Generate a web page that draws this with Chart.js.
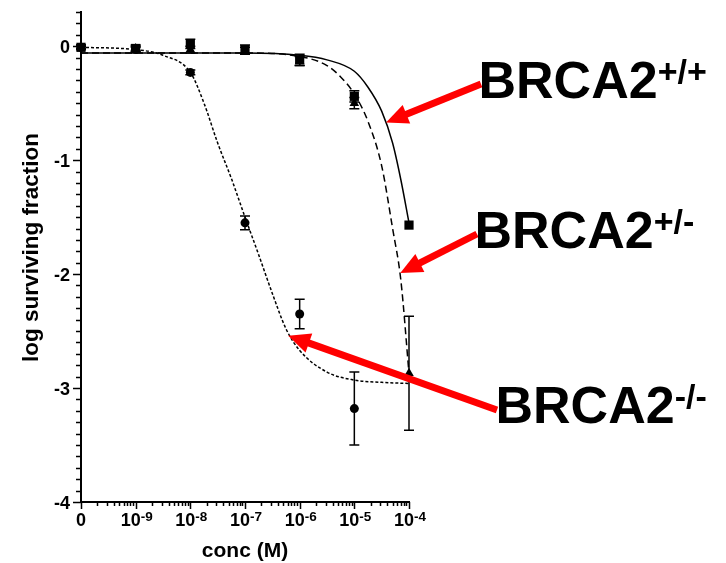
<!DOCTYPE html>
<html>
<head>
<meta charset="utf-8">
<script src="https://cdn.jsdelivr.net/npm/chart.js@4.4.1/dist/chart.umd.min.js"></script>
<style>
  html, body { margin: 0; padding: 0; background: #fff; }
  #wrap { width: 726px; height: 563px; }
</style>
</head>
<body>
<div id="wrap"><canvas id="survival" width="726" height="563"></canvas></div>
<script>
// concentrations (M); "0" is drawn one decade left of 1e-9
const conc = [0, 1e-9, 1e-8, 1e-7, 1e-6, 1e-5, 1e-4];

// log surviving fraction, mean and error
const wtMean  = [-0.01, -0.02, 0.02, -0.03, -0.12, -0.44, -1.57];
const wtErr   = [0.02, 0.03, 0.04, 0.04, 0.05, 0.05, 0];
const hetMean = [-0.01, -0.02, -0.03, -0.04, -0.13, -0.50, -2.87];
const hetErr  = [0.02, 0.02, 0.03, 0.03, 0.04, 0.05, 0.5];
const koMean  = [-0.01, -0.03, -0.23, -1.55, -2.35, -3.18];
const koErr   = [0.01, 0.02, 0.02, 0.06, 0.13, 0.32];

// fitted curves (x in log10 M, "0" at -10)
const wtFitX  = [-10, -7, -6, -5.5, -5.0, -4.75, -4.5, -4.3, -4.15, -4.0];
const wtFitY  = [-0.06, -0.06, -0.08, -0.12, -0.22, -0.36, -0.57, -0.85, -1.17, -1.55];
const hetFitX = [-10, -7, -6, -5.5, -5.25, -5.0, -4.75, -4.5, -4.3, -4.15, -4.0];
const hetFitY = [-0.06, -0.06, -0.09, -0.17, -0.27, -0.42, -0.66, -1.05, -1.6, -2.05, -2.87];
const koFitX  = [-10, -9, -8.5, -8.0, -7.75, -7.5, -7.25, -7.0, -6.75, -6.5, -6.25, -6.0, -5.5, -5.0, -4.5, -4.0];
const koFitY  = [-0.01, -0.03, -0.08, -0.23, -0.50, -0.85, -1.16, -1.50, -1.83, -2.17, -2.48, -2.67, -2.86, -2.93, -2.95, -2.96];

// axis ticks
const yTicks = [0, -1, -2, -3, -4];
const xTickLabels = [["0", ""], ["10", "-9"], ["10", "-8"], ["10", "-7"], ["10", "-6"], ["10", "-5"], ["10", "-4"]];

// series names for the annotations
const seriesNames = [["BRCA2", "+/+"], ["BRCA2", "+/-"], ["BRCA2", "-/-"]];

const FONT = '"Liberation Sans", Arial, sans-serif';

function logPos(c) {
  return c === 0 ? -10 : Math.log10(c);
}
function pts(xs, ys) {
  return ys.map((v, i) => ({ x: xs[i], y: v }));
}
function meanPts(mean) {
  return mean.map((v, i) => ({ x: logPos(conc[i]), y: v }));
}

const errorSets = [
  { mean: wtMean, err: wtErr },
  { mean: hetMean, err: hetErr },
  { mean: koMean, err: koErr },
];

function arrow(ctx, x0, y0, x1, y1) {
  const a = Math.atan2(y1 - y0, x1 - x0);
  const head = 22, half = 10;
  const bx = x1 - head * Math.cos(a), by = y1 - head * Math.sin(a);
  ctx.strokeStyle = "#ff0000";
  ctx.fillStyle = "#ff0000";
  ctx.lineWidth = 7;
  ctx.beginPath();
  ctx.moveTo(x0, y0);
  ctx.lineTo(bx + 2 * Math.cos(a), by + 2 * Math.sin(a));
  ctx.stroke();
  ctx.beginPath();
  ctx.moveTo(x1, y1);
  ctx.lineTo(bx + half * Math.sin(a), by - half * Math.cos(a));
  ctx.lineTo(bx - half * Math.sin(a), by + half * Math.cos(a));
  ctx.closePath();
  ctx.fill();
}

const decorations = {
  id: "decorations",
  afterDatasetsDraw(chart) {
    const { ctx, scales: { x, y } } = chart;
    ctx.save();
    ctx.strokeStyle = "#000";
    ctx.lineWidth = 1.5;
    errorSets.forEach(s => {
      s.mean.forEach((m, i) => {
        const e = s.err[i];
        if (!e) return;
        const px = x.getPixelForValue(logPos(conc[i]));
        const top = y.getPixelForValue(m + e);
        const bot = y.getPixelForValue(m - e);
        ctx.beginPath();
        ctx.moveTo(px, top); ctx.lineTo(px, bot);
        ctx.moveTo(px - 5, top); ctx.lineTo(px + 5, top);
        ctx.moveTo(px - 5, bot); ctx.lineTo(px + 5, bot);
        ctx.stroke();
      });
    });
    ctx.restore();
  },
  afterDraw(chart) {
    const { ctx, scales: { x, y } } = chart;
    const area = chart.chartArea;
    ctx.save();
    ctx.strokeStyle = "#000";
    ctx.fillStyle = "#000";
    ctx.lineWidth = 1.5;

    // y ticks, minor every 0.1
    ctx.beginPath();
    for (let i = -40; i <= 3; i++) {
      const py = Math.round(y.getPixelForValue(i / 10)) + 0.5;
      const len = i % 10 === 0 ? 8 : 5;
      ctx.moveTo(area.left, py);
      ctx.lineTo(area.left - len, py);
    }
    // x ticks, log minors
    for (let d = -10; d <= -4; d++) {
      const px = Math.round(x.getPixelForValue(d)) + 0.5;
      ctx.moveTo(px, area.bottom);
      ctx.lineTo(px, area.bottom + 7);
      if (d === -4) continue;
      for (let k = 2; k <= 9; k++) {
        const mx = Math.round(x.getPixelForValue(d + Math.log10(k))) + 0.5;
        ctx.moveTo(mx, area.bottom);
        ctx.lineTo(mx, area.bottom + 4);
      }
    }
    ctx.stroke();

    // y tick labels
    ctx.font = "bold 18px " + FONT;
    ctx.textAlign = "right";
    ctx.textBaseline = "alphabetic";
    yTicks.forEach(v => {
      ctx.fillText(String(v), area.left - 11, y.getPixelForValue(v) + 6.5);
    });

    // x tick labels with superscripts
    ctx.textAlign = "left";
    xTickLabels.forEach((lab, i) => {
      const px = x.getPixelForValue(logPos(conc[i]));
      ctx.font = "bold 18px " + FONT;
      const w1 = ctx.measureText(lab[0]).width;
      ctx.font = "bold 13.5px " + FONT;
      const w2 = lab[1] ? ctx.measureText(lab[1]).width : 0;
      const start = px - (w1 + w2) / 2 + (lab[1] ? 1 : 0);
      ctx.font = "bold 18px " + FONT;
      ctx.fillText(lab[0], start, 525.5);
      if (lab[1]) {
        ctx.font = "bold 13.5px " + FONT;
        ctx.fillText(lab[1], start + w1, 520.5);
      }
    });

    // axis titles
    ctx.font = "bold 21px " + FONT;
    ctx.textAlign = "center";
    ctx.fillText("conc (M)", (area.left + area.right) / 2, 557);
    ctx.save();
    ctx.translate(38, 247.5);
    ctx.rotate(-Math.PI / 2);
    ctx.font = "bold 22.5px " + FONT;
    ctx.fillText("log surviving fraction", 0, 0);
    ctx.restore();

    // red arrows pointing at each fit
    arrow(ctx, 481, 84, x.getPixelForValue(-4.42), y.getPixelForValue(-0.67));
    arrow(ctx, 477, 234, x.getPixelForValue(-4.16), y.getPixelForValue(-1.99));
    arrow(ctx, 497, 410, x.getPixelForValue(-6.21), y.getPixelForValue(-2.54));

    // series labels
    const labelPos = [[478.5, 98], [474.5, 248], [495.5, 423]];
    ctx.fillStyle = "#000";
    ctx.textAlign = "left";
    seriesNames.forEach((n, i) => {
      const [lx, ly] = labelPos[i];
      ctx.font = "bold 52px " + FONT;
      ctx.fillText(n[0], lx, ly);
      const w = ctx.measureText(n[0]).width;
      ctx.font = "bold 34px " + FONT;
      ctx.fillText(n[1], lx + w, ly - 15);
    });
    ctx.restore();
  }
};

new Chart(document.getElementById("survival"), {
  type: "scatter",
  data: {
    datasets: [
      {
        label: "BRCA2+/+",
        data: meanPts(wtMean),
        pointStyle: "rect",
        pointRadius: 6.5,
        backgroundColor: "#000",
        borderColor: "#000",
        borderWidth: 0,
        clip: false,
      },
      {
        label: "BRCA2+/-",
        data: meanPts(hetMean),
        pointStyle: "triangle",
        pointRadius: 5.5,
        backgroundColor: "#000",
        borderColor: "#000",
        borderWidth: 0,
        clip: false,
      },
      {
        label: "BRCA2-/-",
        data: meanPts(koMean),
        pointStyle: "circle",
        pointRadius: 4.5,
        backgroundColor: "#000",
        borderColor: "#000",
        borderWidth: 0,
        clip: false,
      },
      {
        label: "fit +/+",
        data: pts(wtFitX, wtFitY),
        showLine: true,
        pointRadius: 0,
        borderColor: "#000",
        borderWidth: 1.5,
        cubicInterpolationMode: "monotone",
        clip: false,
      },
      {
        label: "fit +/-",
        data: pts(hetFitX, hetFitY),
        showLine: true,
        pointRadius: 0,
        borderColor: "#000",
        borderWidth: 1.5,
        borderDash: [7, 4],
        cubicInterpolationMode: "monotone",
        clip: false,
      },
      {
        label: "fit -/-",
        data: pts(koFitX, koFitY),
        showLine: true,
        pointRadius: 0,
        borderColor: "#000",
        borderWidth: 1.5,
        borderDash: [3, 2],
        cubicInterpolationMode: "monotone",
        clip: false,
      },
    ],
  },
  options: {
    responsive: false,
    animation: false,
    devicePixelRatio: 1,
    layout: {
      padding: { left: 81, right: 317, top: 12, bottom: 61 },
    },
    plugins: {
      legend: { display: false },
      tooltip: { enabled: false },
    },
    scales: {
      x: {
        type: "linear",
        min: -10,
        max: -4,
        ticks: { display: false },
        grid: { display: false, drawTicks: false, tickLength: 0 },
        border: { display: true, color: "#000", width: 2 },
      },
      y: {
        type: "linear",
        min: -4,
        max: 0.3,
        ticks: { display: false },
        grid: { display: false, drawTicks: false, tickLength: 0 },
        border: { display: true, color: "#000", width: 2 },
      },
    },
  },
  plugins: [decorations],
});
</script>
</body>
</html>
